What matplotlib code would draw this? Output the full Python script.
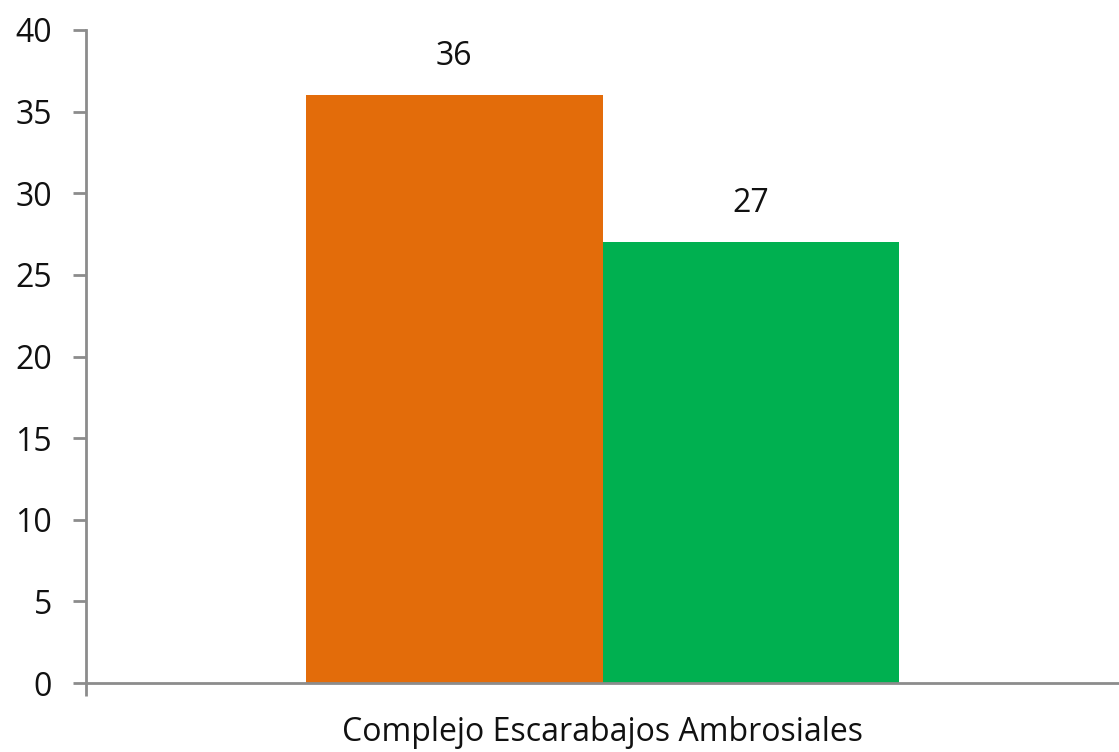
import matplotlib
matplotlib.use('Agg')
import matplotlib.pyplot as plt

# data
category = 'Complejo Escarabajos Ambrosiales'
series_values = [36, 27]
series_colors = ['#E36C0A', '#00B050']
y_ticks = [0, 5, 10, 15, 20, 25, 30, 35, 40]

plt.rcParams['font.family'] = ['Open Sans', 'DejaVu Sans']

fig = plt.figure(figsize=(11.19, 7.52), dpi=100)
ax = fig.add_axes([86 / 1119, 69 / 752, 1 - 86 / 1119, (683 - 30) / 752])

width = 0.287
offsets = [-width / 2, width / 2]
for val, col, off in zip(series_values, series_colors, offsets):
    ax.bar(off, val, width=width, color=col, zorder=2)
    ax.annotate(str(val), (off, val), xytext=(0, 16), textcoords='offset points',
                ha='center', va='bottom', fontsize=23, color='#111111')

ax.set_xlim(-0.5, 0.5)
ax.set_ylim(0, 40)
ax.set_yticks(y_ticks)
ax.set_xticks([-0.5])
ax.set_xticklabels([''])
ax.annotate(category, (0, 0), xytext=(0, -24), textcoords='offset points',
            ha='center', va='top', fontsize=23, color='#111111', annotation_clip=False)

for side in ['top', 'right']:
    ax.spines[side].set_visible(False)
for side in ['left', 'bottom']:
    ax.spines[side].set_color('#8c8c8c')
    ax.spines[side].set_linewidth(2)
ax.tick_params(axis='y', length=9.4, width=2, color='#8c8c8c', labelsize=23, pad=15, labelcolor='#111111')
ax.tick_params(axis='x', length=9.4, width=2, color='#8c8c8c')

fig.savefig('out.png', dpi=100)
